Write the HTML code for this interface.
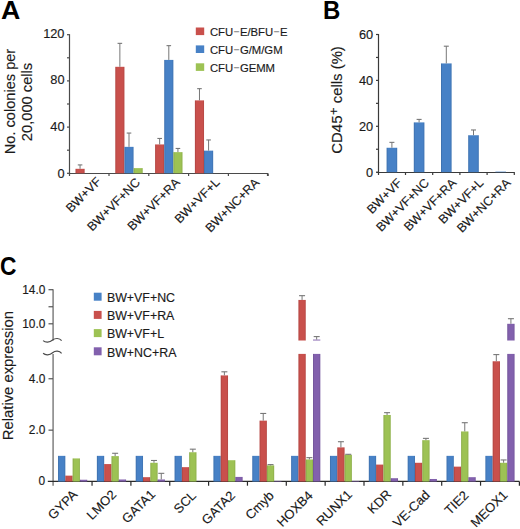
<!DOCTYPE html>
<html><head><meta charset="utf-8"><style>
html,body{margin:0;padding:0;background:#fff;width:520px;height:529px;overflow:hidden}
svg{display:block}
text{font-family:"Liberation Sans", sans-serif}
</style></head><body>
<svg width="520" height="529" viewBox="0 0 520 529">
<text x="0" y="0" font-size="25" font-weight="bold" fill="#000" transform="translate(1.1 19) scale(1.07 1.02)">A</text>
<line x1="69.50" y1="34.20" x2="69.50" y2="176.00" stroke="#4a4a4a" stroke-width="1.2"/>
<line x1="68.80" y1="173.50" x2="268.00" y2="173.50" stroke="#4a4a4a" stroke-width="1.2"/>
<line x1="267.50" y1="173.00" x2="267.50" y2="176.00" stroke="#4a4a4a" stroke-width="1.2"/>
<line x1="67.00" y1="173.30" x2="69.50" y2="173.30" stroke="#4a4a4a" stroke-width="1.2"/>
<line x1="67.00" y1="150.20" x2="69.50" y2="150.20" stroke="#4a4a4a" stroke-width="1.2"/>
<line x1="67.00" y1="127.10" x2="69.50" y2="127.10" stroke="#4a4a4a" stroke-width="1.2"/>
<line x1="67.00" y1="104.00" x2="69.50" y2="104.00" stroke="#4a4a4a" stroke-width="1.2"/>
<line x1="67.00" y1="80.90" x2="69.50" y2="80.90" stroke="#4a4a4a" stroke-width="1.2"/>
<line x1="67.00" y1="57.80" x2="69.50" y2="57.80" stroke="#4a4a4a" stroke-width="1.2"/>
<line x1="67.00" y1="34.70" x2="69.50" y2="34.70" stroke="#4a4a4a" stroke-width="1.2"/>
<text stroke="#1a1a1a" stroke-width="0.15" x="64.50" y="177.90" font-size="12.8" text-anchor="end" font-weight="normal" fill="#1a1a1a">0</text>
<text stroke="#1a1a1a" stroke-width="0.15" x="64.50" y="131.20" font-size="12.8" text-anchor="end" font-weight="normal" fill="#1a1a1a">40</text>
<text stroke="#1a1a1a" stroke-width="0.15" x="64.50" y="84.20" font-size="12.8" text-anchor="end" font-weight="normal" fill="#1a1a1a">80</text>
<text stroke="#1a1a1a" stroke-width="0.15" x="64.50" y="37.80" font-size="12.8" text-anchor="end" font-weight="normal" fill="#1a1a1a">120</text>
<line x1="109.00" y1="173.50" x2="109.00" y2="176.00" stroke="#4a4a4a" stroke-width="1.2"/>
<line x1="148.80" y1="173.50" x2="148.80" y2="176.00" stroke="#4a4a4a" stroke-width="1.2"/>
<line x1="188.60" y1="173.50" x2="188.60" y2="176.00" stroke="#4a4a4a" stroke-width="1.2"/>
<line x1="228.40" y1="173.50" x2="228.40" y2="176.00" stroke="#4a4a4a" stroke-width="1.2"/>
<line x1="268.20" y1="173.50" x2="268.20" y2="176.00" stroke="#4a4a4a" stroke-width="1.2"/>
<rect x="75.50" y="168.81" width="9.13" height="4.49" fill="#C9504C"/>
<rect x="75.50" y="168.81" width="1" height="4.49" fill="#000" fill-opacity="0.10"/>
<rect x="83.63" y="168.81" width="1" height="4.49" fill="#000" fill-opacity="0.08"/>
<line x1="80.06" y1="164.91" x2="80.06" y2="168.81" stroke="#777" stroke-width="1"/>
<line x1="77.77" y1="164.91" x2="82.36" y2="164.91" stroke="#777" stroke-width="1.1"/>
<rect x="115.30" y="66.81" width="9.13" height="106.49" fill="#C9504C"/>
<rect x="115.30" y="66.81" width="1" height="106.49" fill="#000" fill-opacity="0.10"/>
<rect x="123.43" y="66.81" width="1" height="106.49" fill="#000" fill-opacity="0.08"/>
<line x1="119.86" y1="43.35" x2="119.86" y2="66.81" stroke="#777" stroke-width="1"/>
<line x1="117.56" y1="43.35" x2="122.16" y2="43.35" stroke="#777" stroke-width="1.1"/>
<rect x="124.43" y="146.85" width="9.13" height="26.45" fill="#4781C6"/>
<rect x="124.43" y="146.85" width="1" height="26.45" fill="#000" fill-opacity="0.10"/>
<rect x="132.56" y="146.85" width="1" height="26.45" fill="#000" fill-opacity="0.08"/>
<line x1="129.00" y1="133.05" x2="129.00" y2="146.85" stroke="#777" stroke-width="1"/>
<line x1="126.70" y1="133.05" x2="131.30" y2="133.05" stroke="#777" stroke-width="1.1"/>
<rect x="133.56" y="168.12" width="9.13" height="5.18" fill="#9DC254"/>
<rect x="133.56" y="168.12" width="1" height="5.18" fill="#000" fill-opacity="0.10"/>
<rect x="141.69" y="168.12" width="1" height="5.18" fill="#000" fill-opacity="0.08"/>
<rect x="155.10" y="144.44" width="9.13" height="28.87" fill="#C9504C"/>
<rect x="155.10" y="144.44" width="1" height="28.87" fill="#000" fill-opacity="0.10"/>
<rect x="163.23" y="144.44" width="1" height="28.87" fill="#000" fill-opacity="0.08"/>
<line x1="159.67" y1="138.46" x2="159.67" y2="144.44" stroke="#777" stroke-width="1"/>
<line x1="157.37" y1="138.46" x2="161.97" y2="138.46" stroke="#777" stroke-width="1.1"/>
<rect x="164.23" y="59.91" width="9.13" height="113.39" fill="#4781C6"/>
<rect x="164.23" y="59.91" width="1" height="113.39" fill="#000" fill-opacity="0.10"/>
<rect x="172.36" y="59.91" width="1" height="113.39" fill="#000" fill-opacity="0.08"/>
<line x1="168.80" y1="45.65" x2="168.80" y2="59.91" stroke="#777" stroke-width="1"/>
<line x1="166.50" y1="45.65" x2="171.10" y2="45.65" stroke="#777" stroke-width="1.1"/>
<rect x="173.36" y="152.14" width="9.13" height="21.16" fill="#9DC254"/>
<rect x="173.36" y="152.14" width="1" height="21.16" fill="#000" fill-opacity="0.10"/>
<rect x="181.49" y="152.14" width="1" height="21.16" fill="#000" fill-opacity="0.08"/>
<line x1="177.93" y1="148.46" x2="177.93" y2="152.14" stroke="#777" stroke-width="1"/>
<line x1="175.62" y1="148.46" x2="180.23" y2="148.46" stroke="#777" stroke-width="1.1"/>
<rect x="194.90" y="100.39" width="9.13" height="72.91" fill="#C9504C"/>
<rect x="194.90" y="100.39" width="1" height="72.91" fill="#000" fill-opacity="0.10"/>
<rect x="203.03" y="100.39" width="1" height="72.91" fill="#000" fill-opacity="0.08"/>
<line x1="199.47" y1="88.66" x2="199.47" y2="100.39" stroke="#777" stroke-width="1"/>
<line x1="197.16" y1="88.66" x2="201.77" y2="88.66" stroke="#777" stroke-width="1.1"/>
<rect x="204.03" y="150.65" width="9.13" height="22.66" fill="#4781C6"/>
<rect x="204.03" y="150.65" width="1" height="22.66" fill="#000" fill-opacity="0.10"/>
<rect x="212.16" y="150.65" width="1" height="22.66" fill="#000" fill-opacity="0.08"/>
<line x1="208.59" y1="139.95" x2="208.59" y2="150.65" stroke="#777" stroke-width="1"/>
<line x1="206.29" y1="139.95" x2="210.90" y2="139.95" stroke="#777" stroke-width="1.1"/>
<text stroke="#1a1a1a" stroke-width="0.15" x="14.90" y="101.50" font-size="14.6" text-anchor="middle" font-weight="normal" fill="#1a1a1a" transform="rotate(-90 14.90 101.50)">No. colonies per</text>
<text stroke="#1a1a1a" stroke-width="0.15" x="32.40" y="102.00" font-size="14.7" text-anchor="middle" font-weight="normal" fill="#1a1a1a" transform="rotate(-90 32.40 102.00)">20,000 cells</text>
<text stroke="#1a1a1a" stroke-width="0.15" x="101.80" y="182.40" font-size="12.5" text-anchor="end" font-weight="normal" fill="#1a1a1a" transform="rotate(-45 101.80 182.40)">BW+VF</text>
<text stroke="#1a1a1a" stroke-width="0.15" x="140.90" y="183.20" font-size="12.5" text-anchor="end" font-weight="normal" fill="#1a1a1a" transform="rotate(-45 140.90 183.20)">BW+VF+NC</text>
<text stroke="#1a1a1a" stroke-width="0.15" x="180.70" y="183.20" font-size="12.5" text-anchor="end" font-weight="normal" fill="#1a1a1a" transform="rotate(-45 180.70 183.20)">BW+VF+RA</text>
<text stroke="#1a1a1a" stroke-width="0.15" x="220.50" y="183.20" font-size="12.5" text-anchor="end" font-weight="normal" fill="#1a1a1a" transform="rotate(-45 220.50 183.20)">BW+VF+L</text>
<text stroke="#1a1a1a" stroke-width="0.15" x="260.10" y="183.30" font-size="12.5" text-anchor="end" font-weight="normal" fill="#1a1a1a" transform="rotate(-45 260.10 183.30)">BW+NC+RA</text>
<rect x="195.80" y="27.50" width="8.40" height="7.60" fill="#C9504C"/>
<text stroke="#1a1a1a" stroke-width="0.15" x="209.90" y="35.80" font-size="11.3" text-anchor="start" font-weight="normal" fill="#1a1a1a">CFU<tspan fill="#8c8c8c" stroke="#8c8c8c" stroke-width="0.35" font-size="9.5" dx="0.6" dy="-0.6">−</tspan><tspan dx="0.6" dy="0.6">E/BFU<tspan fill="#8c8c8c" stroke="#8c8c8c" stroke-width="0.35" font-size="9.5" dx="0.6" dy="-0.6">−</tspan><tspan dx="0.6" dy="0.6">E</tspan></tspan></text>
<rect x="195.80" y="45.40" width="8.40" height="7.60" fill="#4781C6"/>
<text stroke="#1a1a1a" stroke-width="0.15" x="209.90" y="53.70" font-size="11.3" text-anchor="start" font-weight="normal" fill="#1a1a1a">CFU<tspan fill="#8c8c8c" stroke="#8c8c8c" stroke-width="0.35" font-size="9.5" dx="0.6" dy="-0.6">−</tspan><tspan dx="0.6" dy="0.6">G/M/GM</tspan></text>
<rect x="195.80" y="63.30" width="8.40" height="7.60" fill="#9DC254"/>
<text stroke="#1a1a1a" stroke-width="0.15" x="209.90" y="71.60" font-size="11.3" text-anchor="start" font-weight="normal" fill="#1a1a1a">CFU<tspan fill="#8c8c8c" stroke="#8c8c8c" stroke-width="0.35" font-size="9.5" dx="0.6" dy="-0.6">−</tspan><tspan dx="0.6" dy="0.6">GEMM</tspan></text>
<text x="0" y="0" font-size="25" font-weight="bold" fill="#000" transform="translate(322.9 19) scale(0.96 1)">B</text>
<line x1="378.50" y1="34.00" x2="378.50" y2="175.00" stroke="#3a3a3a" stroke-width="1.2"/>
<line x1="376.50" y1="172.50" x2="514.80" y2="172.50" stroke="#3a3a3a" stroke-width="1.2"/>
<line x1="376.00" y1="172.20" x2="378.50" y2="172.20" stroke="#3a3a3a" stroke-width="1.2"/>
<line x1="376.00" y1="149.25" x2="378.50" y2="149.25" stroke="#3a3a3a" stroke-width="1.2"/>
<line x1="376.00" y1="126.30" x2="378.50" y2="126.30" stroke="#3a3a3a" stroke-width="1.2"/>
<line x1="376.00" y1="103.35" x2="378.50" y2="103.35" stroke="#3a3a3a" stroke-width="1.2"/>
<line x1="376.00" y1="80.40" x2="378.50" y2="80.40" stroke="#3a3a3a" stroke-width="1.2"/>
<line x1="376.00" y1="57.45" x2="378.50" y2="57.45" stroke="#3a3a3a" stroke-width="1.2"/>
<line x1="376.00" y1="34.50" x2="378.50" y2="34.50" stroke="#3a3a3a" stroke-width="1.2"/>
<text stroke="#1a1a1a" stroke-width="0.15" x="373.20" y="176.80" font-size="12.8" text-anchor="end" font-weight="normal" fill="#1a1a1a">0</text>
<text stroke="#1a1a1a" stroke-width="0.15" x="373.20" y="130.60" font-size="12.8" text-anchor="end" font-weight="normal" fill="#1a1a1a">20</text>
<text stroke="#1a1a1a" stroke-width="0.15" x="373.20" y="84.85" font-size="12.8" text-anchor="end" font-weight="normal" fill="#1a1a1a">40</text>
<text stroke="#1a1a1a" stroke-width="0.15" x="373.20" y="39.20" font-size="12.8" text-anchor="end" font-weight="normal" fill="#1a1a1a">60</text>
<line x1="405.50" y1="172.50" x2="405.50" y2="175.00" stroke="#3a3a3a" stroke-width="1.2"/>
<line x1="432.70" y1="172.50" x2="432.70" y2="175.00" stroke="#3a3a3a" stroke-width="1.2"/>
<line x1="459.90" y1="172.50" x2="459.90" y2="175.00" stroke="#3a3a3a" stroke-width="1.2"/>
<line x1="487.10" y1="172.50" x2="487.10" y2="175.00" stroke="#3a3a3a" stroke-width="1.2"/>
<line x1="514.30" y1="172.50" x2="514.30" y2="175.00" stroke="#3a3a3a" stroke-width="1.2"/>
<rect x="386.60" y="147.76" width="10.60" height="24.44" fill="#4781C6"/>
<rect x="386.60" y="147.76" width="1" height="24.44" fill="#000" fill-opacity="0.10"/>
<rect x="396.20" y="147.76" width="1" height="24.44" fill="#000" fill-opacity="0.08"/>
<line x1="391.90" y1="142.36" x2="391.90" y2="147.76" stroke="#777" stroke-width="1"/>
<line x1="389.40" y1="142.36" x2="394.40" y2="142.36" stroke="#777" stroke-width="1.1"/>
<rect x="413.80" y="122.40" width="10.60" height="49.80" fill="#4781C6"/>
<rect x="413.80" y="122.40" width="1" height="49.80" fill="#000" fill-opacity="0.10"/>
<rect x="423.40" y="122.40" width="1" height="49.80" fill="#000" fill-opacity="0.08"/>
<line x1="419.10" y1="119.41" x2="419.10" y2="122.40" stroke="#777" stroke-width="1"/>
<line x1="416.60" y1="119.41" x2="421.60" y2="119.41" stroke="#777" stroke-width="1.1"/>
<rect x="441.00" y="63.42" width="10.60" height="108.78" fill="#4781C6"/>
<rect x="441.00" y="63.42" width="1" height="108.78" fill="#000" fill-opacity="0.10"/>
<rect x="450.60" y="63.42" width="1" height="108.78" fill="#000" fill-opacity="0.08"/>
<line x1="446.30" y1="46.20" x2="446.30" y2="63.42" stroke="#777" stroke-width="1"/>
<line x1="443.80" y1="46.20" x2="448.80" y2="46.20" stroke="#777" stroke-width="1.1"/>
<rect x="468.20" y="135.25" width="10.60" height="36.95" fill="#4781C6"/>
<rect x="468.20" y="135.25" width="1" height="36.95" fill="#000" fill-opacity="0.10"/>
<rect x="477.80" y="135.25" width="1" height="36.95" fill="#000" fill-opacity="0.08"/>
<line x1="473.50" y1="129.97" x2="473.50" y2="135.25" stroke="#777" stroke-width="1"/>
<line x1="471.00" y1="129.97" x2="476.00" y2="129.97" stroke="#777" stroke-width="1.1"/>
<rect x="495.40" y="171.63" width="10.60" height="0.57" fill="#4781C6"/>
<text stroke="#1a1a1a" stroke-width="0.15" x="341.80" y="99.90" font-size="14.9" text-anchor="middle" font-weight="normal" fill="#1a1a1a" transform="rotate(-90 341.80 99.90)">CD45<tspan dx="0.6" dy="-3.3" font-size="13">+</tspan><tspan dy="3.3"> cells (%)</tspan></text>
<text stroke="#1a1a1a" stroke-width="0.15" x="402.70" y="183.70" font-size="12.5" text-anchor="end" font-weight="normal" fill="#1a1a1a" transform="rotate(-45 402.70 183.70)">BW+VF</text>
<text stroke="#1a1a1a" stroke-width="0.15" x="429.90" y="183.70" font-size="12.5" text-anchor="end" font-weight="normal" fill="#1a1a1a" transform="rotate(-45 429.90 183.70)">BW+VF+NC</text>
<text stroke="#1a1a1a" stroke-width="0.15" x="457.10" y="183.70" font-size="12.5" text-anchor="end" font-weight="normal" fill="#1a1a1a" transform="rotate(-45 457.10 183.70)">BW+VF+RA</text>
<text stroke="#1a1a1a" stroke-width="0.15" x="484.30" y="183.70" font-size="12.5" text-anchor="end" font-weight="normal" fill="#1a1a1a" transform="rotate(-45 484.30 183.70)">BW+VF+L</text>
<text stroke="#1a1a1a" stroke-width="0.15" x="511.50" y="183.70" font-size="12.5" text-anchor="end" font-weight="normal" fill="#1a1a1a" transform="rotate(-45 511.50 183.70)">BW+NC+RA</text>
<text x="0" y="0" font-size="25" font-weight="bold" fill="#000" transform="translate(0 274.9) scale(0.91 1)">C</text>
<line x1="53.10" y1="289.20" x2="53.10" y2="340.50" stroke="#888" stroke-width="1.6"/>
<line x1="53.10" y1="353.90" x2="53.10" y2="485.70" stroke="#888" stroke-width="1.6"/>
<line x1="47.80" y1="481.40" x2="519.50" y2="481.40" stroke="#2a2a2a" stroke-width="1.3"/>
<line x1="48.50" y1="323.80" x2="53.00" y2="323.80" stroke="#555" stroke-width="1.2"/>
<line x1="48.50" y1="306.75" x2="53.00" y2="306.75" stroke="#555" stroke-width="1.2"/>
<line x1="48.50" y1="289.70" x2="53.00" y2="289.70" stroke="#555" stroke-width="1.2"/>
<line x1="48.50" y1="430.15" x2="53.00" y2="430.15" stroke="#555" stroke-width="1.2"/>
<line x1="48.50" y1="378.75" x2="53.00" y2="378.75" stroke="#555" stroke-width="1.2"/>
<text stroke="#1a1a1a" stroke-width="0.15" x="45.40" y="293.60" font-size="11.9" text-anchor="end" font-weight="normal" fill="#1a1a1a">14.0</text>
<text stroke="#1a1a1a" stroke-width="0.15" x="45.40" y="327.70" font-size="11.9" text-anchor="end" font-weight="normal" fill="#1a1a1a">10.0</text>
<text stroke="#1a1a1a" stroke-width="0.15" x="45.40" y="382.65" font-size="11.9" text-anchor="end" font-weight="normal" fill="#1a1a1a">4.0</text>
<text stroke="#1a1a1a" stroke-width="0.15" x="45.40" y="434.05" font-size="11.9" text-anchor="end" font-weight="normal" fill="#1a1a1a">2.0</text>
<text stroke="#1a1a1a" stroke-width="0.15" x="45.20" y="485.45" font-size="11.9" text-anchor="end" font-weight="normal" fill="#1a1a1a">0</text>
<line x1="92.05" y1="481.40" x2="92.05" y2="485.70" stroke="#2a2a2a" stroke-width="1.2"/>
<line x1="130.90" y1="481.40" x2="130.90" y2="485.70" stroke="#2a2a2a" stroke-width="1.2"/>
<line x1="169.75" y1="481.40" x2="169.75" y2="485.70" stroke="#2a2a2a" stroke-width="1.2"/>
<line x1="208.60" y1="481.40" x2="208.60" y2="485.70" stroke="#2a2a2a" stroke-width="1.2"/>
<line x1="247.45" y1="481.40" x2="247.45" y2="485.70" stroke="#2a2a2a" stroke-width="1.2"/>
<line x1="286.30" y1="481.40" x2="286.30" y2="485.70" stroke="#2a2a2a" stroke-width="1.2"/>
<line x1="325.15" y1="481.40" x2="325.15" y2="485.70" stroke="#2a2a2a" stroke-width="1.2"/>
<line x1="364.00" y1="481.40" x2="364.00" y2="485.70" stroke="#2a2a2a" stroke-width="1.2"/>
<line x1="402.85" y1="481.40" x2="402.85" y2="485.70" stroke="#2a2a2a" stroke-width="1.2"/>
<line x1="441.70" y1="481.40" x2="441.70" y2="485.70" stroke="#2a2a2a" stroke-width="1.2"/>
<line x1="480.55" y1="481.40" x2="480.55" y2="485.70" stroke="#2a2a2a" stroke-width="1.2"/>
<line x1="519.40" y1="481.40" x2="519.40" y2="485.70" stroke="#2a2a2a" stroke-width="1.2"/>
<path d="M43.1 340.60 C45.5 342.70 49.5 342.70 52.6 340.00 C55.2 337.90 59.5 337.90 61.6 340.60" fill="none" stroke="#4a4a4a" stroke-width="1.2"/>
<path d="M43.1 353.30 C45.5 355.40 49.5 355.40 52.6 352.70 C55.2 350.60 59.5 350.60 61.6 353.30" fill="none" stroke="#4a4a4a" stroke-width="1.2"/>
<rect x="58.03" y="455.85" width="7.30" height="25.70" fill="#4781C6"/>
<rect x="58.03" y="455.85" width="1" height="25.70" fill="#000" fill-opacity="0.10"/>
<rect x="64.33" y="455.85" width="1" height="25.70" fill="#000" fill-opacity="0.08"/>
<rect x="65.33" y="475.64" width="7.30" height="5.91" fill="#C9504C"/>
<rect x="65.33" y="475.64" width="1" height="5.91" fill="#000" fill-opacity="0.10"/>
<rect x="71.62" y="475.64" width="1" height="5.91" fill="#000" fill-opacity="0.08"/>
<rect x="72.62" y="458.42" width="7.30" height="23.13" fill="#9DC254"/>
<rect x="72.62" y="458.42" width="1" height="23.13" fill="#000" fill-opacity="0.10"/>
<rect x="78.92" y="458.42" width="1" height="23.13" fill="#000" fill-opacity="0.08"/>
<rect x="79.93" y="479.75" width="7.30" height="1.80" fill="#8260AD"/>
<rect x="79.93" y="479.75" width="1" height="1.80" fill="#000" fill-opacity="0.10"/>
<rect x="86.23" y="479.75" width="1" height="1.80" fill="#000" fill-opacity="0.08"/>
<rect x="96.88" y="455.85" width="7.30" height="25.70" fill="#4781C6"/>
<rect x="96.88" y="455.85" width="1" height="25.70" fill="#000" fill-opacity="0.10"/>
<rect x="103.18" y="455.85" width="1" height="25.70" fill="#000" fill-opacity="0.08"/>
<rect x="104.18" y="464.07" width="7.30" height="17.48" fill="#C9504C"/>
<rect x="104.18" y="464.07" width="1" height="17.48" fill="#000" fill-opacity="0.10"/>
<rect x="110.48" y="464.07" width="1" height="17.48" fill="#000" fill-opacity="0.08"/>
<rect x="111.48" y="456.11" width="7.30" height="25.44" fill="#9DC254"/>
<rect x="111.48" y="456.11" width="1" height="25.44" fill="#000" fill-opacity="0.10"/>
<rect x="117.78" y="456.11" width="1" height="25.44" fill="#000" fill-opacity="0.08"/>
<line x1="115.13" y1="453.28" x2="115.13" y2="456.11" stroke="#777" stroke-width="1"/>
<line x1="112.13" y1="453.28" x2="118.13" y2="453.28" stroke="#777" stroke-width="1.1"/>
<rect x="118.78" y="479.49" width="7.30" height="2.06" fill="#8260AD"/>
<rect x="118.78" y="479.49" width="1" height="2.06" fill="#000" fill-opacity="0.10"/>
<rect x="125.08" y="479.49" width="1" height="2.06" fill="#000" fill-opacity="0.08"/>
<rect x="135.72" y="455.85" width="7.30" height="25.70" fill="#4781C6"/>
<rect x="135.72" y="455.85" width="1" height="25.70" fill="#000" fill-opacity="0.10"/>
<rect x="142.03" y="455.85" width="1" height="25.70" fill="#000" fill-opacity="0.08"/>
<rect x="143.03" y="477.18" width="7.30" height="4.37" fill="#C9504C"/>
<rect x="143.03" y="477.18" width="1" height="4.37" fill="#000" fill-opacity="0.10"/>
<rect x="149.33" y="477.18" width="1" height="4.37" fill="#000" fill-opacity="0.08"/>
<rect x="150.32" y="462.79" width="7.30" height="18.76" fill="#9DC254"/>
<rect x="150.32" y="462.79" width="1" height="18.76" fill="#000" fill-opacity="0.10"/>
<rect x="156.62" y="462.79" width="1" height="18.76" fill="#000" fill-opacity="0.08"/>
<line x1="153.97" y1="460.48" x2="153.97" y2="462.79" stroke="#777" stroke-width="1"/>
<line x1="150.97" y1="460.48" x2="156.97" y2="460.48" stroke="#777" stroke-width="1.1"/>
<rect x="157.62" y="479.49" width="7.30" height="2.06" fill="#8260AD"/>
<rect x="157.62" y="479.49" width="1" height="2.06" fill="#000" fill-opacity="0.10"/>
<rect x="163.93" y="479.49" width="1" height="2.06" fill="#000" fill-opacity="0.08"/>
<line x1="161.28" y1="473.33" x2="161.28" y2="479.49" stroke="#777" stroke-width="1"/>
<line x1="158.28" y1="473.33" x2="164.28" y2="473.33" stroke="#777" stroke-width="1.1"/>
<rect x="174.57" y="455.85" width="7.30" height="25.70" fill="#4781C6"/>
<rect x="174.57" y="455.85" width="1" height="25.70" fill="#000" fill-opacity="0.10"/>
<rect x="180.88" y="455.85" width="1" height="25.70" fill="#000" fill-opacity="0.08"/>
<rect x="181.88" y="467.16" width="7.30" height="14.39" fill="#C9504C"/>
<rect x="181.88" y="467.16" width="1" height="14.39" fill="#000" fill-opacity="0.10"/>
<rect x="188.18" y="467.16" width="1" height="14.39" fill="#000" fill-opacity="0.08"/>
<rect x="189.17" y="452.25" width="7.30" height="29.30" fill="#9DC254"/>
<rect x="189.17" y="452.25" width="1" height="29.30" fill="#000" fill-opacity="0.10"/>
<rect x="195.47" y="452.25" width="1" height="29.30" fill="#000" fill-opacity="0.08"/>
<line x1="192.82" y1="449.17" x2="192.82" y2="452.25" stroke="#777" stroke-width="1"/>
<line x1="189.82" y1="449.17" x2="195.82" y2="449.17" stroke="#777" stroke-width="1.1"/>
<rect x="213.43" y="455.85" width="7.30" height="25.70" fill="#4781C6"/>
<rect x="213.43" y="455.85" width="1" height="25.70" fill="#000" fill-opacity="0.10"/>
<rect x="219.73" y="455.85" width="1" height="25.70" fill="#000" fill-opacity="0.08"/>
<rect x="220.73" y="375.41" width="7.30" height="106.14" fill="#C9504C"/>
<rect x="220.73" y="375.41" width="1" height="106.14" fill="#000" fill-opacity="0.10"/>
<rect x="227.03" y="375.41" width="1" height="106.14" fill="#000" fill-opacity="0.08"/>
<line x1="224.38" y1="371.81" x2="224.38" y2="375.41" stroke="#777" stroke-width="1"/>
<line x1="221.38" y1="371.81" x2="227.38" y2="371.81" stroke="#777" stroke-width="1.1"/>
<rect x="228.03" y="460.22" width="7.30" height="21.33" fill="#9DC254"/>
<rect x="228.03" y="460.22" width="1" height="21.33" fill="#000" fill-opacity="0.10"/>
<rect x="234.33" y="460.22" width="1" height="21.33" fill="#000" fill-opacity="0.08"/>
<rect x="235.33" y="476.92" width="7.30" height="4.63" fill="#8260AD"/>
<rect x="235.33" y="476.92" width="1" height="4.63" fill="#000" fill-opacity="0.10"/>
<rect x="241.63" y="476.92" width="1" height="4.63" fill="#000" fill-opacity="0.08"/>
<rect x="252.27" y="455.85" width="7.30" height="25.70" fill="#4781C6"/>
<rect x="252.27" y="455.85" width="1" height="25.70" fill="#000" fill-opacity="0.10"/>
<rect x="258.57" y="455.85" width="1" height="25.70" fill="#000" fill-opacity="0.08"/>
<rect x="259.57" y="420.64" width="7.30" height="60.91" fill="#C9504C"/>
<rect x="259.57" y="420.64" width="1" height="60.91" fill="#000" fill-opacity="0.10"/>
<rect x="265.88" y="420.64" width="1" height="60.91" fill="#000" fill-opacity="0.08"/>
<line x1="263.22" y1="413.45" x2="263.22" y2="420.64" stroke="#777" stroke-width="1"/>
<line x1="260.22" y1="413.45" x2="266.22" y2="413.45" stroke="#777" stroke-width="1.1"/>
<rect x="266.88" y="465.36" width="7.30" height="16.19" fill="#9DC254"/>
<rect x="266.88" y="465.36" width="1" height="16.19" fill="#000" fill-opacity="0.10"/>
<rect x="273.18" y="465.36" width="1" height="16.19" fill="#000" fill-opacity="0.08"/>
<line x1="270.52" y1="464.59" x2="270.52" y2="465.36" stroke="#777" stroke-width="1"/>
<line x1="267.52" y1="464.59" x2="273.52" y2="464.59" stroke="#777" stroke-width="1.1"/>
<rect x="274.17" y="481.04" width="7.30" height="0.51" fill="#8260AD"/>
<rect x="291.12" y="455.85" width="7.30" height="25.70" fill="#4781C6"/>
<rect x="291.12" y="455.85" width="1" height="25.70" fill="#000" fill-opacity="0.10"/>
<rect x="297.43" y="455.85" width="1" height="25.70" fill="#000" fill-opacity="0.08"/>
<rect x="298.43" y="353.90" width="7.30" height="127.65" fill="#C9504C"/>
<rect x="298.43" y="353.90" width="1" height="127.65" fill="#000" fill-opacity="0.10"/>
<rect x="304.73" y="353.90" width="1" height="127.65" fill="#000" fill-opacity="0.08"/>
<rect x="298.43" y="299.93" width="7.30" height="40.57" fill="#C9504C"/>
<rect x="298.43" y="299.93" width="1" height="40.57" fill="#000" fill-opacity="0.10"/>
<rect x="304.73" y="299.93" width="1" height="40.57" fill="#000" fill-opacity="0.08"/>
<line x1="302.07" y1="295.67" x2="302.07" y2="299.93" stroke="#777" stroke-width="1"/>
<line x1="299.07" y1="295.67" x2="305.07" y2="295.67" stroke="#777" stroke-width="1.1"/>
<rect x="305.73" y="459.45" width="7.30" height="22.10" fill="#9DC254"/>
<rect x="305.73" y="459.45" width="1" height="22.10" fill="#000" fill-opacity="0.10"/>
<rect x="312.03" y="459.45" width="1" height="22.10" fill="#000" fill-opacity="0.08"/>
<line x1="309.38" y1="457.65" x2="309.38" y2="459.45" stroke="#777" stroke-width="1"/>
<line x1="306.38" y1="457.65" x2="312.38" y2="457.65" stroke="#777" stroke-width="1.1"/>
<rect x="313.02" y="353.90" width="7.30" height="127.65" fill="#8260AD"/>
<rect x="313.02" y="353.90" width="1" height="127.65" fill="#000" fill-opacity="0.10"/>
<rect x="319.32" y="353.90" width="1" height="127.65" fill="#000" fill-opacity="0.08"/>
<rect x="313.02" y="339.57" width="7.30" height="0.93" fill="#8260AD"/>
<line x1="316.67" y1="336.59" x2="316.67" y2="339.57" stroke="#777" stroke-width="1"/>
<line x1="313.67" y1="336.59" x2="319.67" y2="336.59" stroke="#777" stroke-width="1.1"/>
<rect x="329.97" y="455.85" width="7.30" height="25.70" fill="#4781C6"/>
<rect x="329.97" y="455.85" width="1" height="25.70" fill="#000" fill-opacity="0.10"/>
<rect x="336.27" y="455.85" width="1" height="25.70" fill="#000" fill-opacity="0.08"/>
<rect x="337.27" y="447.37" width="7.30" height="34.18" fill="#C9504C"/>
<rect x="337.27" y="447.37" width="1" height="34.18" fill="#000" fill-opacity="0.10"/>
<rect x="343.57" y="447.37" width="1" height="34.18" fill="#000" fill-opacity="0.08"/>
<line x1="340.92" y1="441.72" x2="340.92" y2="447.37" stroke="#777" stroke-width="1"/>
<line x1="337.92" y1="441.72" x2="343.92" y2="441.72" stroke="#777" stroke-width="1.1"/>
<rect x="344.57" y="454.82" width="7.30" height="26.73" fill="#9DC254"/>
<rect x="344.57" y="454.82" width="1" height="26.73" fill="#000" fill-opacity="0.10"/>
<rect x="350.88" y="454.82" width="1" height="26.73" fill="#000" fill-opacity="0.08"/>
<line x1="348.22" y1="454.31" x2="348.22" y2="454.82" stroke="#777" stroke-width="1"/>
<line x1="345.22" y1="454.31" x2="351.22" y2="454.31" stroke="#777" stroke-width="1.1"/>
<rect x="351.87" y="481.04" width="7.30" height="0.51" fill="#8260AD"/>
<rect x="368.82" y="455.85" width="7.30" height="25.70" fill="#4781C6"/>
<rect x="368.82" y="455.85" width="1" height="25.70" fill="#000" fill-opacity="0.10"/>
<rect x="375.12" y="455.85" width="1" height="25.70" fill="#000" fill-opacity="0.08"/>
<rect x="376.12" y="464.59" width="7.30" height="16.96" fill="#C9504C"/>
<rect x="376.12" y="464.59" width="1" height="16.96" fill="#000" fill-opacity="0.10"/>
<rect x="382.43" y="464.59" width="1" height="16.96" fill="#000" fill-opacity="0.08"/>
<rect x="383.43" y="414.99" width="7.30" height="66.56" fill="#9DC254"/>
<rect x="383.43" y="414.99" width="1" height="66.56" fill="#000" fill-opacity="0.10"/>
<rect x="389.73" y="414.99" width="1" height="66.56" fill="#000" fill-opacity="0.08"/>
<line x1="387.07" y1="412.67" x2="387.07" y2="414.99" stroke="#777" stroke-width="1"/>
<line x1="384.07" y1="412.67" x2="390.07" y2="412.67" stroke="#777" stroke-width="1.1"/>
<rect x="390.72" y="478.21" width="7.30" height="3.34" fill="#8260AD"/>
<rect x="390.72" y="478.21" width="1" height="3.34" fill="#000" fill-opacity="0.10"/>
<rect x="397.02" y="478.21" width="1" height="3.34" fill="#000" fill-opacity="0.08"/>
<rect x="407.68" y="455.85" width="7.30" height="25.70" fill="#4781C6"/>
<rect x="407.68" y="455.85" width="1" height="25.70" fill="#000" fill-opacity="0.10"/>
<rect x="413.98" y="455.85" width="1" height="25.70" fill="#000" fill-opacity="0.08"/>
<rect x="414.98" y="462.79" width="7.30" height="18.76" fill="#C9504C"/>
<rect x="414.98" y="462.79" width="1" height="18.76" fill="#000" fill-opacity="0.10"/>
<rect x="421.28" y="462.79" width="1" height="18.76" fill="#000" fill-opacity="0.08"/>
<rect x="422.28" y="440.17" width="7.30" height="41.38" fill="#9DC254"/>
<rect x="422.28" y="440.17" width="1" height="41.38" fill="#000" fill-opacity="0.10"/>
<rect x="428.58" y="440.17" width="1" height="41.38" fill="#000" fill-opacity="0.08"/>
<line x1="425.93" y1="438.37" x2="425.93" y2="440.17" stroke="#777" stroke-width="1"/>
<line x1="422.93" y1="438.37" x2="428.93" y2="438.37" stroke="#777" stroke-width="1.1"/>
<rect x="429.57" y="478.98" width="7.30" height="2.57" fill="#8260AD"/>
<rect x="429.57" y="478.98" width="1" height="2.57" fill="#000" fill-opacity="0.10"/>
<rect x="435.88" y="478.98" width="1" height="2.57" fill="#000" fill-opacity="0.08"/>
<rect x="446.52" y="455.85" width="7.30" height="25.70" fill="#4781C6"/>
<rect x="446.52" y="455.85" width="1" height="25.70" fill="#000" fill-opacity="0.10"/>
<rect x="452.82" y="455.85" width="1" height="25.70" fill="#000" fill-opacity="0.08"/>
<rect x="453.82" y="466.64" width="7.30" height="14.91" fill="#C9504C"/>
<rect x="453.82" y="466.64" width="1" height="14.91" fill="#000" fill-opacity="0.10"/>
<rect x="460.12" y="466.64" width="1" height="14.91" fill="#000" fill-opacity="0.08"/>
<rect x="461.12" y="431.44" width="7.30" height="50.12" fill="#9DC254"/>
<rect x="461.12" y="431.44" width="1" height="50.12" fill="#000" fill-opacity="0.10"/>
<rect x="467.43" y="431.44" width="1" height="50.12" fill="#000" fill-opacity="0.08"/>
<line x1="464.77" y1="422.70" x2="464.77" y2="431.44" stroke="#777" stroke-width="1"/>
<line x1="461.77" y1="422.70" x2="467.77" y2="422.70" stroke="#777" stroke-width="1.1"/>
<rect x="468.42" y="477.18" width="7.30" height="4.37" fill="#8260AD"/>
<rect x="468.42" y="477.18" width="1" height="4.37" fill="#000" fill-opacity="0.10"/>
<rect x="474.72" y="477.18" width="1" height="4.37" fill="#000" fill-opacity="0.08"/>
<rect x="485.38" y="455.85" width="7.30" height="25.70" fill="#4781C6"/>
<rect x="485.38" y="455.85" width="1" height="25.70" fill="#000" fill-opacity="0.10"/>
<rect x="491.68" y="455.85" width="1" height="25.70" fill="#000" fill-opacity="0.08"/>
<rect x="492.68" y="361.27" width="7.30" height="120.28" fill="#C9504C"/>
<rect x="492.68" y="361.27" width="1" height="120.28" fill="#000" fill-opacity="0.10"/>
<rect x="498.98" y="361.27" width="1" height="120.28" fill="#000" fill-opacity="0.08"/>
<line x1="496.32" y1="354.59" x2="496.32" y2="361.27" stroke="#777" stroke-width="1"/>
<line x1="493.32" y1="354.59" x2="499.32" y2="354.59" stroke="#777" stroke-width="1.1"/>
<rect x="499.98" y="462.79" width="7.30" height="18.76" fill="#9DC254"/>
<rect x="499.98" y="462.79" width="1" height="18.76" fill="#000" fill-opacity="0.10"/>
<rect x="506.28" y="462.79" width="1" height="18.76" fill="#000" fill-opacity="0.08"/>
<line x1="503.62" y1="459.96" x2="503.62" y2="462.79" stroke="#777" stroke-width="1"/>
<line x1="500.62" y1="459.96" x2="506.62" y2="459.96" stroke="#777" stroke-width="1.1"/>
<rect x="507.27" y="353.90" width="7.30" height="127.65" fill="#8260AD"/>
<rect x="507.27" y="353.90" width="1" height="127.65" fill="#000" fill-opacity="0.10"/>
<rect x="513.57" y="353.90" width="1" height="127.65" fill="#000" fill-opacity="0.08"/>
<rect x="507.27" y="323.80" width="7.30" height="16.70" fill="#8260AD"/>
<rect x="507.27" y="323.80" width="1" height="16.70" fill="#000" fill-opacity="0.10"/>
<rect x="513.57" y="323.80" width="1" height="16.70" fill="#000" fill-opacity="0.08"/>
<line x1="510.92" y1="318.69" x2="510.92" y2="323.80" stroke="#777" stroke-width="1"/>
<line x1="507.92" y1="318.69" x2="513.92" y2="318.69" stroke="#777" stroke-width="1.1"/>
<text stroke="#1a1a1a" stroke-width="0.15" x="13.20" y="375.60" font-size="14.8" text-anchor="middle" font-weight="normal" fill="#1a1a1a" transform="rotate(-90 13.20 375.60)">Relative expression</text>
<text stroke="#1a1a1a" stroke-width="0.15" x="78.22" y="495.35" font-size="13" text-anchor="end" font-weight="normal" fill="#1a1a1a" transform="rotate(-45 78.22 495.35)">GYPA</text>
<text stroke="#1a1a1a" stroke-width="0.15" x="117.08" y="495.35" font-size="13" text-anchor="end" font-weight="normal" fill="#1a1a1a" transform="rotate(-45 117.08 495.35)">LMO2</text>
<text stroke="#1a1a1a" stroke-width="0.15" x="156.12" y="495.15" font-size="13" text-anchor="end" font-weight="normal" fill="#1a1a1a" transform="rotate(-45 156.12 495.15)">GATA1</text>
<text stroke="#1a1a1a" stroke-width="0.15" x="196.98" y="496.35" font-size="13" text-anchor="end" font-weight="normal" fill="#1a1a1a" transform="rotate(-45 196.98 496.35)">SCL</text>
<text stroke="#1a1a1a" stroke-width="0.15" x="235.83" y="496.35" font-size="13" text-anchor="end" font-weight="normal" fill="#1a1a1a" transform="rotate(-45 235.83 496.35)">GATA2</text>
<text stroke="#1a1a1a" stroke-width="0.15" x="274.68" y="496.35" font-size="13" text-anchor="end" font-weight="normal" fill="#1a1a1a" transform="rotate(-45 274.68 496.35)">Cmyb</text>
<text stroke="#1a1a1a" stroke-width="0.15" x="313.53" y="496.35" font-size="13" text-anchor="end" font-weight="normal" fill="#1a1a1a" transform="rotate(-45 313.53 496.35)">HOXB4</text>
<text stroke="#1a1a1a" stroke-width="0.15" x="352.88" y="495.35" font-size="13" text-anchor="end" font-weight="normal" fill="#1a1a1a" transform="rotate(-45 352.88 495.35)">RUNX1</text>
<text stroke="#1a1a1a" stroke-width="0.15" x="392.23" y="495.15" font-size="13" text-anchor="end" font-weight="normal" fill="#1a1a1a" transform="rotate(-45 392.23 495.15)">KDR</text>
<text stroke="#1a1a1a" stroke-width="0.15" x="430.57" y="495.85" font-size="13" text-anchor="end" font-weight="normal" fill="#1a1a1a" transform="rotate(-45 430.57 495.85)">VE-Cad</text>
<text stroke="#1a1a1a" stroke-width="0.15" x="469.43" y="496.05" font-size="13" text-anchor="end" font-weight="normal" fill="#1a1a1a" transform="rotate(-45 469.43 496.05)">TIE2</text>
<text stroke="#1a1a1a" stroke-width="0.15" x="508.28" y="495.85" font-size="13" text-anchor="end" font-weight="normal" fill="#1a1a1a" transform="rotate(-45 508.28 495.85)">MEOX1</text>
<rect x="93.80" y="292.70" width="7.80" height="8.00" fill="#4781C6"/>
<text stroke="#1a1a1a" stroke-width="0.15" x="106.90" y="301.90" font-size="12.4" text-anchor="start" font-weight="normal" fill="#1a1a1a">BW+VF+NC</text>
<rect x="93.80" y="310.90" width="7.80" height="8.00" fill="#C9504C"/>
<text stroke="#1a1a1a" stroke-width="0.15" x="106.90" y="320.10" font-size="12.4" text-anchor="start" font-weight="normal" fill="#1a1a1a">BW+VF+RA</text>
<rect x="93.80" y="329.10" width="7.80" height="8.00" fill="#9DC254"/>
<text stroke="#1a1a1a" stroke-width="0.15" x="106.90" y="338.30" font-size="12.4" text-anchor="start" font-weight="normal" fill="#1a1a1a">BW+VF+L</text>
<rect x="93.80" y="347.30" width="7.80" height="8.00" fill="#8260AD"/>
<text stroke="#1a1a1a" stroke-width="0.15" x="106.90" y="356.50" font-size="12.4" text-anchor="start" font-weight="normal" fill="#1a1a1a">BW+NC+RA</text>
</svg></body></html>
